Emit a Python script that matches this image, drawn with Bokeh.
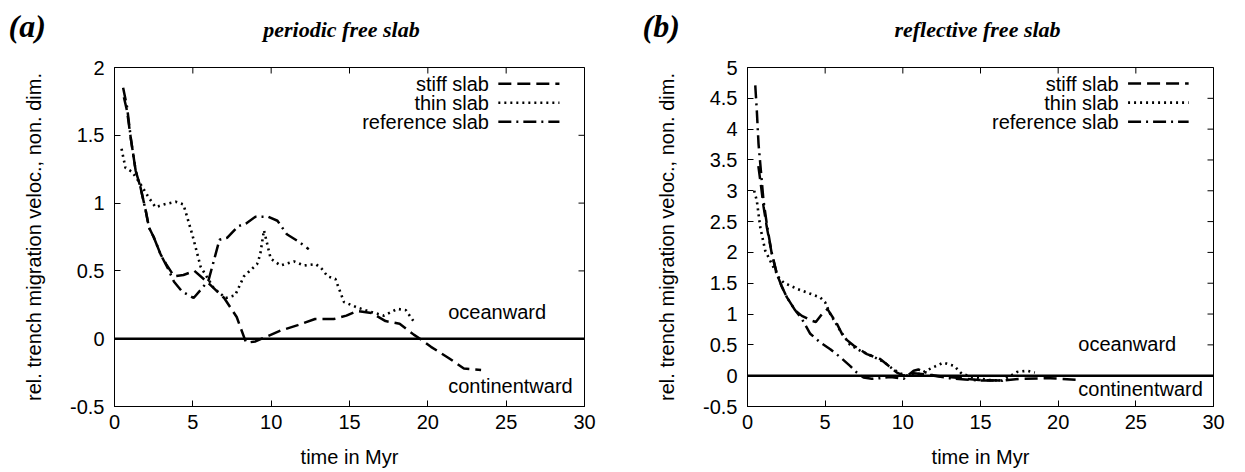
import math

from bokeh.plotting import figure
from bokeh.models import Label, FixedTicker, Range1d, Span
from bokeh.layouts import row, column
from bokeh.core.properties import value
from bokeh.embed import file_html
from bokeh.resources import INLINE

# ---- (a) periodic free slab ----
a_stiff_t = [0.6, 0.8, 1.05, 1.35, 1.65, 2.0, 2.2, 2.5, 2.95, 3.3, 3.8, 4.4, 5.1, 5.9, 7.0, 7.8, 8.4, 9.0,
             9.6, 10.6, 11.7, 12.8, 14.0, 14.8, 15.5, 16.4, 17.3, 18.2, 19.1, 19.5, 20.2, 21.3, 22.3, 23.4]
a_stiff_v = [1.78, 1.68, 1.47, 1.24, 1.12, 0.94, 0.82, 0.75, 0.62, 0.55, 0.46, 0.47, 0.50, 0.42, 0.30, 0.16,
             -0.03, -0.02, 0.01, 0.06, 0.10, 0.145, 0.145, 0.17, 0.205, 0.19, 0.13, 0.11, 0.03, 0.0, -0.06,
             -0.14, -0.22, -0.23]

a_thin_t = [0.45, 0.7, 1.13, 1.66, 2.19, 2.62, 3.15, 3.9, 4.4, 4.96, 5.5, 6.35, 7.1, 7.7, 8.26, 9.1, 9.3,
            9.54, 9.97, 10.6, 11.46, 12.1, 12.84, 13.2, 13.6, 14.1, 14.65, 15.5, 16.3, 17.2, 18.06, 18.6, 19.2]
a_thin_v = [1.40, 1.26, 1.23, 1.14, 1.04, 0.97, 0.99, 1.01, 0.99, 0.77, 0.53, 0.37, 0.30, 0.32, 0.46, 0.55,
            0.62, 0.80, 0.59, 0.54, 0.57, 0.54, 0.55, 0.52, 0.46, 0.44, 0.27, 0.23, 0.20, 0.17, 0.22, 0.21, 0.11]

a_ref_t = [0.55, 0.8, 1.05, 1.35, 1.65, 2.0, 2.2, 2.5, 2.95, 3.4, 3.8, 4.3, 5.05, 5.5, 6.0, 6.4, 6.7, 7.2,
           7.9, 8.4, 9.0, 9.8, 10.4, 11.0, 11.7, 12.4]
a_ref_v = [1.85, 1.71, 1.47, 1.24, 1.12, 0.94, 0.82, 0.75, 0.62, 0.52, 0.42, 0.35, 0.30, 0.36, 0.43, 0.60,
           0.73, 0.745, 0.83, 0.85, 0.90, 0.90, 0.87, 0.77, 0.72, 0.66]

# ---- (b) reflective free slab ----
b_stiff_t = [0.7, 0.86, 1.03, 1.25, 1.55, 1.89, 2.2, 2.54, 3.07, 3.5, 4.15, 4.4, 4.79, 5.15, 5.76, 6.2, 6.83,
             7.69, 8.54, 9.08, 9.62, 10.05, 10.7, 11.5, 12.4, 13.3, 14.1, 14.9, 16.3, 17.6, 19.5, 21.4]
b_stiff_v = [3.4, 3.1, 2.75, 2.4, 2.0, 1.65, 1.45, 1.27, 1.06, 0.97, 0.89, 0.87, 1.0, 1.08, 0.84, 0.62, 0.49,
             0.35, 0.27, 0.16, 0.05, 0.0, 0.04, 0.02, -0.01, -0.03, -0.05, -0.07, -0.08, -0.05, -0.04, -0.07]

b_thin_t = [0.43, 0.6, 0.82, 1.14, 1.57, 2.0, 2.32, 3.18, 4.04, 4.68, 5.0, 5.33, 5.97, 6.6, 7.3, 8.0, 8.8,
            9.3, 9.8, 10.3, 11.1, 11.9, 12.6, 13.3, 13.8, 14.6, 15.5, 16.4, 17.35, 18.0, 18.5]
b_thin_v = [3.0, 2.84, 2.41, 2.03, 1.81, 1.6, 1.51, 1.41, 1.33, 1.27, 1.19, 1.0, 0.73, 0.50, 0.40, 0.32, 0.22,
            0.12, 0.04, 0.0, 0.03, 0.13, 0.21, 0.16, 0.03, -0.03, -0.07, -0.08, 0.06, 0.08, 0.05]

b_ref_t = [0.5, 0.6, 0.71, 0.86, 1.03, 1.25, 1.55, 1.89, 2.2, 2.54, 3.07, 3.5, 4.04, 4.68, 5.33, 5.97, 6.6,
           7.04, 7.47, 8.0, 8.54, 9.2, 10.06, 10.7, 11.0, 12.0, 13.0, 14.0, 15.0, 16.0, 16.6]
b_ref_v = [4.71, 4.3, 3.76, 3.33, 2.84, 2.45, 2.0, 1.65, 1.45, 1.27, 1.06, 0.92, 0.68, 0.54, 0.43, 0.30, 0.16,
           0.05, -0.03, -0.05, -0.04, -0.02, -0.05, 0.08, 0.10, 0.0, -0.04, -0.06, -0.08, -0.08, -0.07]

series_names = ["stiff slab", "thin slab", "reference slab"]
panel_tags = ["(a)", "(b)"]
panel_titles = ["periodic free slab", "reflective free slab"]

x_ticks = [0, 5, 10, 15, 20, 25, 30]
x_tick_labels = ["0", "5", "10", "15", "20", "25", "30"]
ya_ticks = [-0.5, 0, 0.5, 1, 1.5, 2]
ya_tick_labels = ["-0.5", "0", "0.5", "1", "1.5", "2"]
yb_ticks = [-0.5, 0, 0.5, 1, 1.5, 2, 2.5, 3, 3.5, 4, 4.5, 5]
yb_tick_labels = ["-0.5", "0", "0.5", "1", "1.5", "2", "2.5", "3", "3.5", "4", "4.5", "5"]

SANS = "Liberation Sans"
SERIF = "Liberation Serif"
FS = "20px"
BAND_H = 50          # height of the heading strip above the two panels
PANEL_H = 472 - BAND_H

STYLES = [
    dict(line_dash="13 6", line_width=2.5),
    dict(line_dash="2 4", line_width=2.6),
    dict(line_dash="13 5 2 5", line_width=2.5),
]


def style_axis(ax, ticks, labels, standoff):
    ax.ticker = FixedTicker(ticks=ticks)
    ax.major_label_overrides = {t: s for t, s in zip(ticks, labels)}
    ax.major_tick_in = 6
    ax.major_tick_out = 0
    ax.minor_tick_line_color = None
    ax.axis_line_color = "black"
    ax.major_tick_line_color = "black"
    ax.major_label_text_font = SANS
    ax.major_label_text_font_size = FS
    ax.major_label_text_color = "black"
    ax.major_label_standoff = standoff
    ax.axis_label_text_font = SANS
    ax.axis_label_text_font_size = FS
    ax.axis_label_text_font_style = "normal"
    ax.axis_label_text_color = "black"


def panel(width, border_left, border_right, y_max, y_ticks, y_labels, series,
          legend_x, legend_ys, sample_x, ocean_pos, cont_pos):
    p = figure(width=width, height=PANEL_H, output_backend="svg", toolbar_location=None,
               x_range=Range1d(0, 30), y_range=Range1d(-0.5, y_max),
               min_border_left=border_left, min_border_right=border_right,
               min_border_top=67 - BAND_H, min_border_bottom=66)
    p.xgrid.visible = False
    p.ygrid.visible = False
    p.outline_line_color = "black"
    p.outline_line_width = 1

    style_axis(p.xaxis[0], x_ticks, x_tick_labels, standoff=8)
    style_axis(p.yaxis[0], y_ticks, y_labels, standoff=10)
    p.xaxis.axis_label = "time in Myr"
    p.yaxis.axis_label = "rel. trench migration veloc., non. dim."
    p.xaxis.axis_label_standoff = 14
    p.yaxis.axis_label_standoff = 22

    # mirrored inward tick marks on the top and right edges of the box
    p.scatter(x_ticks, [y_max] * len(x_ticks), marker="dash", size=12, angle=math.pi / 2,
              line_color="black", line_width=1)
    p.scatter([30] * len(y_ticks), y_ticks, marker="dash", size=12,
              line_color="black", line_width=1)

    p.add_layout(Span(location=0, dimension="width", line_color="black", line_width=2.6))

    for (t, v), st in zip(series, STYLES):
        p.line(t, v, line_color="black", **st)

    for name, ly, st in zip(series_names, legend_ys, STYLES):
        p.add_layout(Label(x=legend_x, y=ly, text=name, text_align="right", text_baseline="middle",
                           text_font=SANS, text_font_size=FS, text_color="black"))
        p.line(sample_x, [ly, ly], line_color="black", **st)

    p.add_layout(Label(x=ocean_pos[0], y=ocean_pos[1], text="oceanward", text_align="left",
                       text_baseline="middle", text_font=SANS, text_font_size=FS, text_color="black"))
    p.add_layout(Label(x=cont_pos[0], y=cont_pos[1], text="continentward", text_align="left",
                       text_baseline="middle", text_font=SANS, text_font_size=FS, text_color="black"))
    return p


pa = panel(620, 114, 36, 2, ya_ticks, ya_tick_labels,
           [(a_stiff_t, a_stiff_v), (a_thin_t, a_thin_v), (a_ref_t, a_ref_v)],
           23.9, [1.88, 1.74, 1.60], [24.5, 28.4], (21.3, 0.2), (21.3, -0.35))

pb = panel(625, 127, 32, 5, yb_ticks, yb_tick_labels,
           [(b_stiff_t, b_stiff_v), (b_thin_t, b_thin_v), (b_ref_t, b_ref_v)],
           23.9, [4.74, 4.43, 4.12], [24.5, 28.4], (21.3, 0.52), (21.3, -0.21))

# heading strip: panel tags on the left, italic panel titles centred over each box
head = figure(width=1245, height=BAND_H, output_backend="svg", toolbar_location=None,
              x_range=Range1d(0, 1245), y_range=Range1d(0, BAND_H),
              x_axis_type=None, y_axis_type=None,
              min_border_left=0, min_border_right=0, min_border_top=0, min_border_bottom=0)
head.xgrid.visible = False
head.ygrid.visible = False
head.outline_line_color = None
head.text(x=[8, 642], y=[25, 25], text=panel_tags, text_align="left", text_baseline="middle",
          text_font=value(SERIF), text_font_size="32px", text_font_style="bold italic",
          text_color="black")
head.text(x=[341, 977], y=[21, 21], text=panel_titles, text_align="center", text_baseline="middle",
          text_font=value(SERIF), text_font_size="22px", text_font_style="bold italic",
          text_color="black")

layout = column(head, row(pa, pb))
open("out.html", "w").write(file_html(layout, INLINE))
